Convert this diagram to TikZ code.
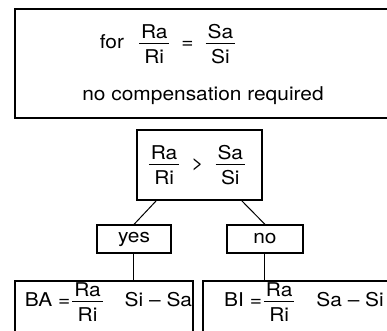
\documentclass[tikz,border=0pt]{standalone}
\usepackage{fontspec}
\setmainfont[FakeStretch=1.1]{TeX Gyre Heros}
\newcommand{\ratio}[2]{\ensuremath{\vcenter{\hbox{\renewcommand{\arraystretch}{0}%
  \setlength{\tabcolsep}{1pt}%
  \begin{tabular}{c}\rule[-2.5pt]{0pt}{7.5pt}#1\\\hline\rule{0pt}{10pt}#2\end{tabular}}}}}

\begin{document}
\begin{tikzpicture} [x=0.5pt,y=-0.5pt,font=\fontsize{9.5}{12}\selectfont,
  box/.style={draw,line width=0.6pt,inner sep=0pt}]

\useasboundingbox (0,0) rectangle (387,331);
\clip (0,0) rectangle (387,331);

%\draw [dotted] (0,0) grid [step=20pt] (387,331);

\node [box,minimum width=192.5pt,minimum height=54.5pt] (rule) at (207.5,63.5) {};
\node (forline) at (167.5,44) {for\hspace{7.5pt}\ratio{Ra}{Ri}\hspace{6pt}=\hspace{6pt}\ratio{Sa}{Si}};
\node [anchor=base] (nocomp) at (203,101) {no compensation required};

\node [box,minimum width=62.5pt,minimum height=35pt] (cond) at (199.5,165) {};
\node (condtext) at (197,165) {\ratio{Ra}{Ri}\hspace{6pt}>\hspace{6pt}\ratio{Sa}{Si}};

\node [box,minimum width=37pt,minimum height=14pt] (yes) at (134,239) {yes};
\node [box,minimum width=38pt,minimum height=14pt] (no) at (265,239) {no};

\node [box,minimum width=89pt,minimum height=32pt] (ba) at (104,313) {};
\node [box,minimum width=98.5pt,minimum height=32pt] (bi) at (301.5,313) {};
\node (batext) at (108.5,302) {BA =\hspace{1pt}\ratio{Ra}{Ri}\hspace{11pt}Si – Sa};
\node (bitext) at (304,302) {BI =\hspace{1pt}\ratio{Ra}{Ri}\hspace{11pt}Sa – Si};

\draw [line width=0.5pt] ([xshift=10pt]cond.south west) -- (yes.north);
\draw [line width=0.5pt] ([xshift=-10.5pt]cond.south east) -- (no.north);
\draw [line width=0.5pt] (yes.south) -- (yes.south |- ba.north);
\draw [line width=0.5pt] (no.south) -- (no.south |- bi.north);

\end{tikzpicture}
\end{document}
